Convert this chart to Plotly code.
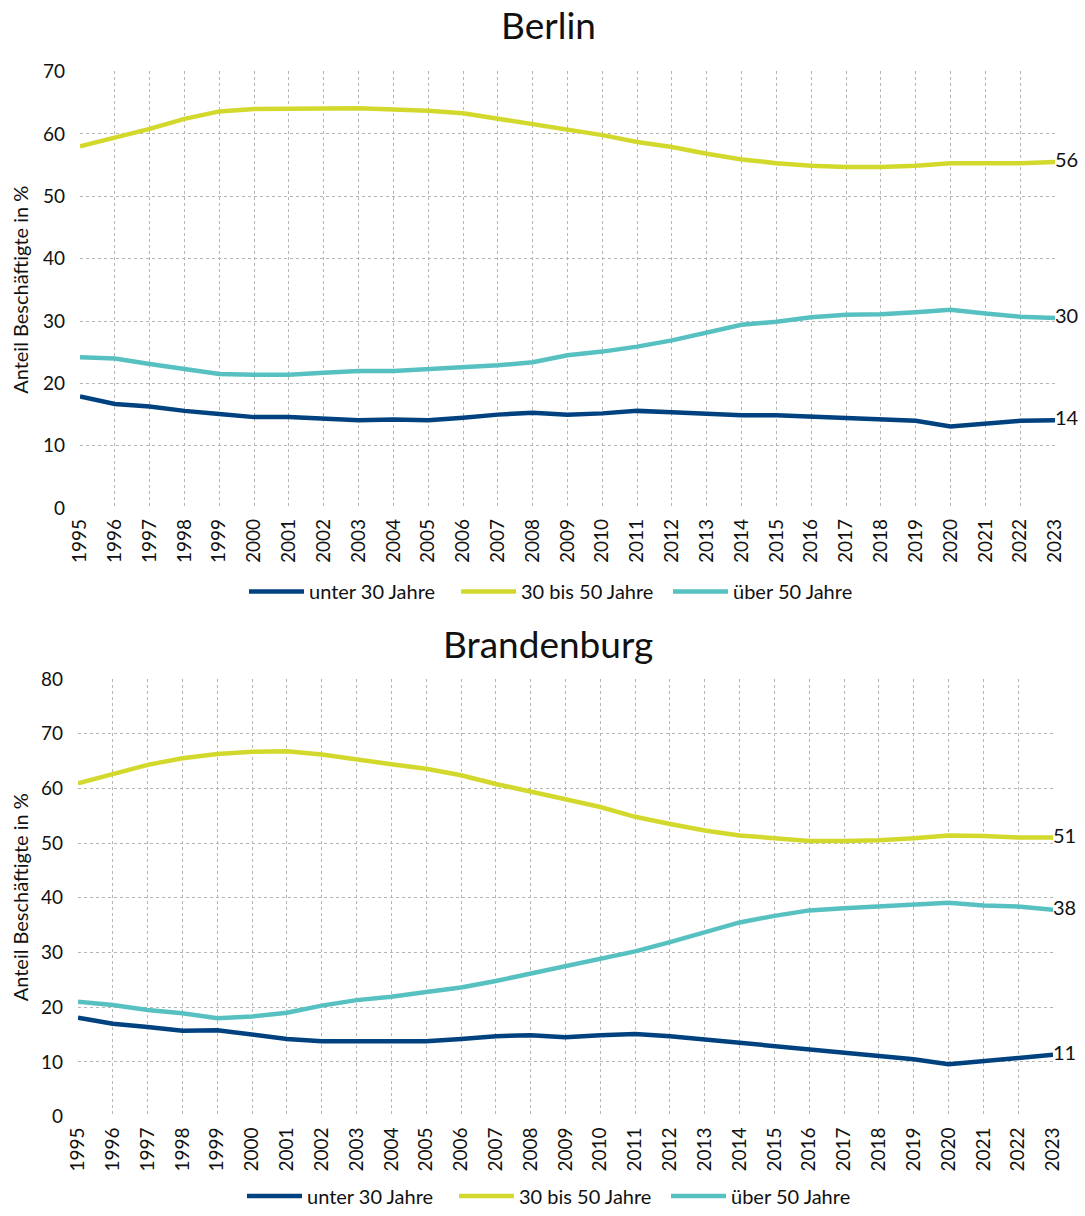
import plotly.graph_objects as go

years = list(range(1995, 2024))

berlin_u30 = [17.9, 16.7, 16.3, 15.6, 15.1, 14.6, 14.6, 14.4, 14.1, 14.2, 14.1, 14.5, 15.0, 15.3,
              15.0, 15.2, 15.6, 15.4, 15.2, 14.9, 14.9, 14.7, 14.5, 14.3, 14.0, 13.1, 13.5, 14.0, 14.1]
berlin_30_50 = [58.0, 59.4, 60.8, 62.4, 63.6, 64.0, 64.0, 64.0, 64.1, 63.9, 63.7, 63.3, 62.4, 61.5,
                60.6, 59.8, 58.7, 57.9, 56.8, 55.9, 55.3, 54.9, 54.7, 54.7, 54.9, 55.3, 55.3, 55.3, 55.5]
berlin_o50 = [24.2, 24.0, 23.1, 22.3, 21.5, 21.4, 21.4, 21.7, 22.0, 22.0, 22.3, 22.5, 22.9, 23.4,
              24.5, 25.1, 25.9, 26.9, 28.1, 29.4, 29.9, 30.6, 31.0, 31.1, 31.4, 31.8, 31.2, 30.7, 30.5]

bb_u30 = [18.1, 17.0, 16.4, 15.7, 15.8, 15.0, 14.2, 13.8, 13.8, 13.9, 13.8, 14.2, 14.7, 14.9,
          14.5, 14.9, 15.1, 14.7, 14.1, 13.3, 12.7, 12.1, 11.5, 11.0, 10.5, 9.6, 10.2, 10.8, 11.3]
bb_30_50 = [60.9, 62.6, 64.3, 65.5, 66.3, 66.7, 66.8, 66.2, 65.2, 64.4, 63.6, 62.4, 60.8, 59.3,
            58.0, 56.6, 54.8, 53.5, 52.3, 51.4, 50.8, 50.4, 50.4, 50.5, 50.9, 51.4, 51.3, 51.0, 51.0]
bb_o50 = [21.0, 20.4, 19.5, 18.9, 18.0, 18.3, 19.0, 20.3, 21.3, 21.9, 22.8, 23.6, 24.8, 26.1,
          27.4, 28.7, 30.2, 31.9, 33.7, 35.5, 36.7, 37.7, 38.1, 38.4, 38.6, 39.1, 38.6, 38.4, 37.8]

series_names = ["unter 30 Jahre", "30 bis 50 Jahre", "über 50 Jahre"]
colors = ["#00427f", "#d3d92c", "#57c1c1"]
panel_titles = ["Berlin", "Brandenburg"]
y_title = "Anteil Beschäftigte in %"
y_ranges = [[0, 70], [0, 80]]

FONT = "Source Sans Pro, Lato, Noto Sans, sans-serif"
W, H = 1085, 1216

fig = go.Figure()

panels = [
    (berlin_u30, berlin_30_50, berlin_o50),
    (bb_u30, bb_30_50, bb_o50),
]
legend_ids = ["legend", "legend2"]
for p, data in enumerate(panels):
    xa = "x" if p == 0 else "x2"
    ya = "y" if p == 0 else "y2"
    for s, vals in enumerate(data):
        text = [""] * (len(vals) - 1) + [f"{round(vals[-1]):d}"]
        fig.add_trace(go.Scatter(
            x=years, y=vals, name=series_names[s], mode="lines+text",
            text=text, textposition="middle right",
            textfont=dict(family=FONT, size=20, color="#111"),
            line=dict(color=colors[s], width=4.5),
            xaxis=xa, yaxis=ya, legend=legend_ids[p], cliponaxis=False,
            hoverinfo="x+y+name",
        ))

def px_y(py):
    return 1 - py / H

def px_x(px):
    return px / W

grid = dict(showgrid=True, gridcolor="#b5b5b5", griddash="dot", gridwidth=1,
            zeroline=False, showline=False, ticks="")
xtick_font = dict(family=FONT, size=19, color="#111")
ytick_font = dict(family=FONT, size=19, color="#111")

legend_common = dict(orientation="h", xanchor="center", yanchor="middle",
                     font=dict(family=FONT, size=20), bgcolor="rgba(0,0,0,0)",
                     itemwidth=55, entrywidth=142, entrywidthmode="pixels")

fig.update_layout(
    width=W, height=H,
    margin=dict(l=0, r=0, t=0, b=0),
    paper_bgcolor="white", plot_bgcolor="white",
    font=dict(family=FONT, color="#111"),
    xaxis=dict(domain=[px_x(80), px_x(1055)], anchor="y", range=[1995, 2023], tickmode="array",
               tickvals=years, ticktext=[str(y) for y in years], tickangle=-90,
               tickfont=xtick_font, automargin=False, ticklabelstandoff=6, **grid),
    yaxis=dict(domain=[px_y(512), px_y(72)], anchor="x", range=y_ranges[0], dtick=10,
               tickfont=ytick_font, automargin=False, ticklabelstandoff=14, **grid),
    xaxis2=dict(domain=[px_x(78), px_x(1053)], anchor="y2", range=[1995, 2023], tickmode="array",
                tickvals=years, ticktext=[str(y) for y in years], tickangle=-90,
                tickfont=xtick_font, automargin=False, ticklabelstandoff=6, **grid),
    yaxis2=dict(domain=[px_y(1125), px_y(684)], anchor="x2", range=y_ranges[1], dtick=10,
                tickfont=ytick_font, automargin=False, ticklabelstandoff=14, **grid),
    legend=dict(x=px_x(562), y=px_y(596), **legend_common),
    legend2=dict(x=px_x(560), y=px_y(1205), **legend_common),
    annotations=[
        dict(text=panel_titles[0], x=px_x(548), y=px_y(25), xref="paper", yref="paper",
             showarrow=False, font=dict(family=FONT, size=37, color="#111"), yanchor="middle"),
        dict(text=panel_titles[1], x=px_x(548), y=px_y(648), xref="paper", yref="paper",
             showarrow=False, font=dict(family=FONT, size=37, color="#111"), yanchor="middle"),
        dict(text=y_title, x=px_x(20), y=px_y(292), xref="paper", yref="paper", textangle=-90,
             showarrow=False, font=dict(family=FONT, size=20, color="#111"),
             xanchor="center", yanchor="middle"),
        dict(text=y_title, x=px_x(20), y=px_y(904), xref="paper", yref="paper", textangle=-90,
             showarrow=False, font=dict(family=FONT, size=20, color="#111"),
             xanchor="center", yanchor="middle"),
    ],
)

fig.write_html(
    "out.html",
    config={"displayModeBar": False},
    post_script="document.body.style.margin='0';document.body.style.overflow='hidden';",
)
